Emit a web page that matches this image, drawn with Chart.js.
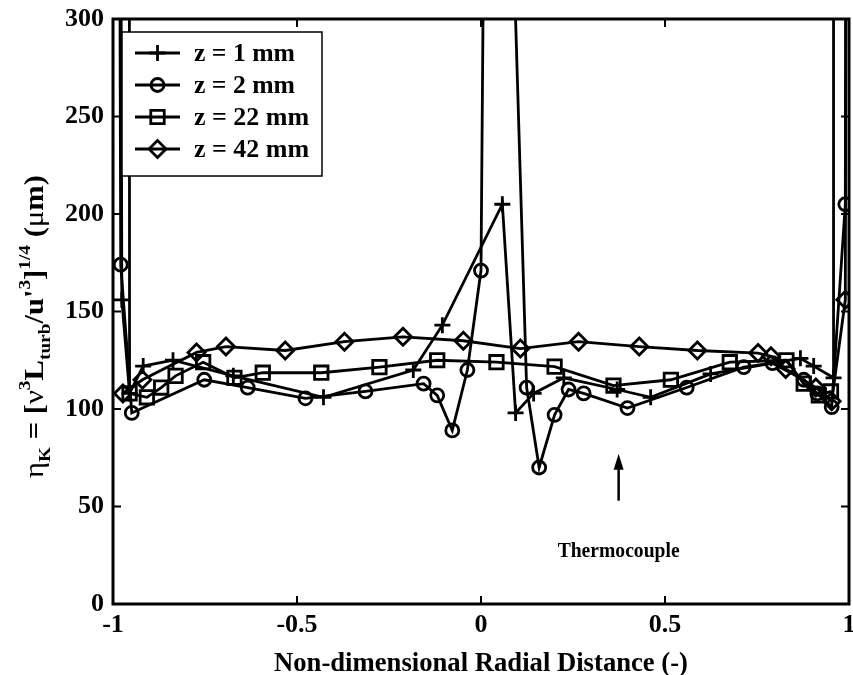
<!DOCTYPE html>
<html>
<head>
<meta charset="utf-8">
<script src="https://cdn.jsdelivr.net/npm/chart.js@4/dist/chart.umd.min.js"></script>
<style>
  body { margin: 0; background: #fff; }
  #wrap { width: 853px; height: 675px; }
</style>
</head>
<body>
<div id="wrap"><canvas id="etaChart" width="853" height="675"></canvas></div>
<script>
// Kolmogorov length scale across the jet, four axial stations
// Points that sit far above 300 leave the plot and get clipped at the frame
const seriesNames = ['z = 1 mm', 'z = 2 mm', 'z = 22 mm', 'z = 42 mm'];

const r1 = [-0.985, -0.976, -0.955, -0.918, -0.837, -0.673, -0.428, -0.184, -0.105, 0.058, 0.094, 0.143, 0.225, 0.37, 0.461, 0.624, 0.868, 0.904, 0.958, 0.958];
const eta1 = [900, 156, 108, 122, 125, 117, 106, 120, 143, 205, 98, 108, 116, 110, 106, 118, 126, 122, 116, 2000];

const r2 = [-0.99, -0.979, -0.949, -0.752, -0.634, -0.477, -0.314, -0.156, -0.119, -0.078, -0.037, 0.0, 0.024, 0.124, 0.158, 0.2, 0.238, 0.279, 0.398, 0.559, 0.714, 0.792, 0.877, 0.914, 0.953, 0.99, 0.996];
const eta2 = [900, 174, 98, 115, 111, 105.5, 109, 113, 107, 89, 120, 171, 740, 111, 70, 97, 110, 108, 100.5, 111, 121.5, 123.5, 115, 108, 101, 205, 900];

const r22 = [-0.958, -0.955, -0.908, -0.869, -0.83, -0.755, -0.67, -0.593, -0.434, -0.276, -0.119, 0.042, 0.2, 0.36, 0.516, 0.676, 0.83, 0.877, 0.918, 0.951];
const eta22 = [1500, 108, 106, 111, 117, 124, 116, 118.6, 118.6, 121.5, 125, 124, 121.7, 112, 115, 124, 125, 113, 107, 109];

const r42 = [-0.973, -0.92, -0.773, -0.693, -0.532, -0.371, -0.212, -0.048, 0.107, 0.265, 0.43, 0.588, 0.753, 0.788, 0.828, 0.91, 0.953, 0.99, 0.996];
const eta42 = [108, 115, 129, 132, 130, 134.5, 137, 135, 131, 134.5, 132, 130, 128.7, 127, 120.5, 111, 104, 156, 800];

const xTicks = [-1, -0.5, 0, 0.5, 1];
const yTicks = [0, 50, 100, 150, 200, 250, 300];

// thermocouple position marker
const tcX = 0.374;
const tcFrom = 53, tcTo = 77;

const serif = '"Liberation Serif", "Times New Roman", serif';
const markers = ['cross', 'circle', 'rect', 'rectRot'];
const markerSize = [8, 6.5, 9.5, 8.5];

function pairs(xs, ys) {
  return xs.map((x, i) => ({ x: x, y: ys[i] }));
}

const allData = [pairs(r1, eta1), pairs(r2, eta2), pairs(r22, eta22), pairs(r42, eta42)];

const datasets = allData.map((d, i) => ({
  label: seriesNames[i],
  data: d,
  borderColor: '#000',
  borderWidth: 2.8,
  pointStyle: markers[i],
  pointRadius: markerSize[i],
  pointBorderColor: '#000',
  pointBackgroundColor: 'rgba(0,0,0,0)',
  pointBorderWidth: 2.8,
  tension: 0,
  fill: false
}));

// frame, tick labels, axis titles, legend box and the thermocouple arrow
const decorations = {
  id: 'decorations',
  afterDraw(chart) {
    const ctx = chart.ctx;
    const a = chart.chartArea;
    const xs = chart.scales.x, ys = chart.scales.y;
    ctx.save();

    // inward ticks on all four sides
    ctx.strokeStyle = '#000';
    ctx.lineWidth = 2;
    ctx.beginPath();
    xTicks.forEach(v => {
      const px = xs.getPixelForValue(v);
      ctx.moveTo(px, a.bottom); ctx.lineTo(px, a.bottom - 8);
      ctx.moveTo(px, a.top); ctx.lineTo(px, a.top + 8);
    });
    yTicks.forEach(v => {
      const py = ys.getPixelForValue(v);
      ctx.moveTo(a.left, py); ctx.lineTo(a.left + 8, py);
      ctx.moveTo(a.right, py); ctx.lineTo(a.right - 8, py);
    });
    ctx.stroke();
    ctx.lineWidth = 3;
    ctx.strokeRect(a.left, a.top, a.right - a.left, a.bottom - a.top);

    // tick labels
    ctx.fillStyle = '#000';
    ctx.font = 'bold 26px ' + serif;
    ctx.textAlign = 'center';
    ctx.textBaseline = 'top';
    xTicks.forEach(v => ctx.fillText(String(v), xs.getPixelForValue(v), a.bottom + 8));
    ctx.textAlign = 'right';
    ctx.textBaseline = 'middle';
    yTicks.forEach(v => ctx.fillText(String(v), a.left - 9, ys.getPixelForValue(v)));

    // x title
    ctx.font = 'bold 28px ' + serif;
    ctx.textAlign = 'center';
    ctx.textBaseline = 'alphabetic';
    ctx.fillText('Non-dimensional Radial Distance (-)', (a.left + a.right) / 2, 671, 414);

    // y title, rotated, with sub/superscripts, stretched to its length
    ctx.save();
    const big = 'bold 27px ' + serif;
    const greek = '27px ' + serif;
    const small = 'bold 17px ' + serif;
    const parts = [
      [greek, 'η', 0], [small, 'K', 7], [big, ' = [', 0], [greek, 'ν', 0],
      [small, '3', -13], [big, 'L', 0], [small, 'turb', 7], [big, '/u\'', 0],
      [small, '3', -13], [big, ']', 0], [small, '1/4', -13], [big, ' (', 0],
      [greek, 'μ', 0], [big, 'm)', 0]
    ];
    let total = 0;
    parts.forEach(p => { ctx.font = p[0]; total += ctx.measureText(p[1]).width; });
    ctx.translate(43, 478);
    ctx.rotate(-Math.PI / 2);
    ctx.scale(303 / total, 1);
    ctx.textAlign = 'left';
    let cx = 0;
    parts.forEach(p => {
      ctx.font = p[0];
      ctx.fillText(p[1], cx, p[2]);
      cx += ctx.measureText(p[1]).width;
    });
    ctx.restore();

    // legend
    const lx = 122, ly = 32, lw = 200, lh = 144;
    ctx.fillStyle = '#fff';
    ctx.fillRect(lx, ly, lw, lh);
    ctx.lineWidth = 1.5;
    ctx.strokeStyle = '#000';
    ctx.strokeRect(lx, ly, lw, lh);
    ctx.font = 'bold 26px ' + serif;
    ctx.textAlign = 'left';
    ctx.textBaseline = 'middle';
    const rowY = [53, 85, 117, 149];
    seriesNames.forEach((name, i) => {
      const y = rowY[i];
      ctx.lineWidth = 2.8;
      ctx.beginPath();
      ctx.moveTo(135, y); ctx.lineTo(180, y);
      ctx.stroke();
      if (Chart.helpers && Chart.helpers.drawPoint) {
        ctx.fillStyle = 'rgba(0,0,0,0)';
        Chart.helpers.drawPoint(ctx, {
          pointStyle: markers[i], radius: markerSize[i], borderWidth: 2.8, rotation: 0
        }, 157.5, y);
      }
      ctx.fillStyle = '#000';
      ctx.fillText(name, 194, y + 1, i < 2 ? 101 : 116);
    });

    // thermocouple arrow and label
    const axp = xs.getPixelForValue(tcX);
    const y0 = ys.getPixelForValue(tcFrom), y1 = ys.getPixelForValue(tcTo);
    ctx.lineWidth = 2.5;
    ctx.beginPath();
    ctx.moveTo(axp, y0); ctx.lineTo(axp, y1 + 12);
    ctx.stroke();
    ctx.beginPath();
    ctx.moveTo(axp, y1);
    ctx.lineTo(axp - 5, y1 + 16);
    ctx.lineTo(axp + 5, y1 + 16);
    ctx.closePath();
    ctx.fill();
    ctx.font = 'bold 22px ' + serif;
    ctx.textAlign = 'center';
    ctx.textBaseline = 'alphabetic';
    ctx.fillText('Thermocouple', axp, 557, 122);

    ctx.restore();
  }
};

new Chart(document.getElementById('etaChart'), {
  type: 'line',
  data: { datasets },
  options: {
    responsive: false,
    animation: false,
    layout: { autoPadding: false, padding: { left: 0, top: 19, right: 4, bottom: 0 } },
    plugins: { legend: { display: false }, tooltip: { enabled: false } },
    scales: {
      x: {
        type: 'linear',
        min: -1, max: 1,
        afterFit: s => { s.height = 71; },
        grid: { display: false, drawTicks: false },
        border: { display: false },
        ticks: { display: false }
      },
      y: {
        min: 0, max: 300,
        afterFit: s => { s.width = 113; },
        grid: { display: false, drawTicks: false },
        border: { display: false },
        ticks: { display: false }
      }
    }
  },
  plugins: [decorations]
});
</script>
</body>
</html>
